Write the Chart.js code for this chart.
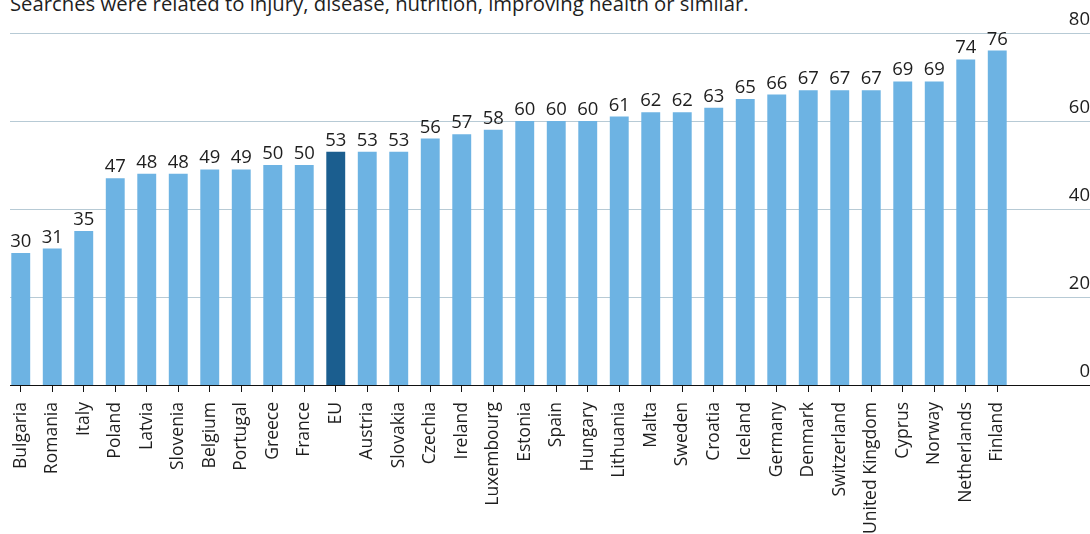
<!DOCTYPE html>
<html>
<head>
<meta charset="utf-8">
<script src="https://cdn.jsdelivr.net/npm/chart.js@4"></script>
<style>
  html, body { margin: 0; padding: 0; background: #fff; }
  #wrap { position: relative; width: 1090px; height: 534px; overflow: hidden; }
  #title {
    position: absolute; left: 10px; top: -7px;
    font: 20.3px/20px "Open Sans", sans-serif; color: #1e1e1e; white-space: nowrap;
  }
  canvas { position: absolute; left: 0; top: 0; }
</style>
</head>
<body>
<div id="wrap">
  <div id="title">Searches were related to injury, disease, nutrition, improving health or similar.</div>
  <canvas id="chart" width="1090" height="534"></canvas>
</div>
<script>
const countries = ['Bulgaria', 'Romania', 'Italy', 'Poland', 'Latvia', 'Slovenia', 'Belgium', 'Portugal',
  'Greece', 'France', 'EU', 'Austria', 'Slovakia', 'Czechia', 'Ireland', 'Luxembourg', 'Estonia', 'Spain',
  'Hungary', 'Lithuania', 'Malta', 'Sweden', 'Croatia', 'Iceland', 'Germany', 'Denmark', 'Switzerland',
  'United Kingdom', 'Cyprus', 'Norway', 'Netherlands', 'Finland'];
const shares = [30, 31, 35, 47, 48, 48, 49, 49, 50, 50, 53, 53, 53, 56, 57, 58, 60, 60,
  60, 61, 62, 62, 63, 65, 66, 67, 67, 67, 69, 69, 74, 76];
const yTicks = [0, 20, 40, 60, 80];

const light = '#6db3e3';
const dark = '#1b5e8f';
const gridColor = '#b7cad5';
const textColor = '#1e1e1e';

// grid lines and base line run across the whole width, past the plot
const longLines = {
  id: 'longLines',
  beforeDatasetsDraw(chart) {
    const { ctx } = chart;
    const y = chart.scales.y;
    ctx.save();
    ctx.lineWidth = 1;
    yTicks.forEach(v => {
      const py = Math.round(y.getPixelForValue(v)) + 0.5;
      ctx.strokeStyle = v === 0 ? '#111' : gridColor;
      ctx.beginPath();
      ctx.moveTo(10, py);
      ctx.lineTo(chart.width, py);
      ctx.stroke();
    });
    ctx.restore();
  }
};

// value above each bar
const valueLabels = {
  id: 'valueLabels',
  afterDatasetsDraw(chart) {
    const { ctx } = chart;
    const meta = chart.getDatasetMeta(0);
    ctx.save();
    ctx.font = '18.5px "Open Sans", sans-serif';
    ctx.fillStyle = textColor;
    ctx.textAlign = 'center';
    ctx.textBaseline = 'alphabetic';
    meta.data.forEach((bar, i) => {
      ctx.fillText(String(shares[i]), bar.x, bar.y - 6);
    });
    ctx.restore();
  }
};

new Chart(document.getElementById('chart'), {
  type: 'bar',
  data: {
    labels: countries,
    datasets: [{
      data: shares,
      backgroundColor: countries.map(c => c === 'EU' ? dark : light),
      borderWidth: 0,
      barPercentage: 0.6,
      categoryPercentage: 1
    }]
  },
  options: {
    responsive: false,
    animation: false,
    layout: { padding: { left: 5, top: 33, right: 0, bottom: 0 } },
    plugins: {
      legend: { display: false },
      tooltip: { enabled: false }
    },
    scales: {
      x: {
        offset: true,
        grid: { display: true, drawOnChartArea: false, offset: false, tickLength: 7, color: '#111' },
        border: { display: false },
        ticks: {
          autoSkip: false,
          maxRotation: 90,
          minRotation: 90,
          padding: 10,
          color: textColor,
          font: { family: '"Open Sans", sans-serif', size: 17.5 }
        },
        afterFit(scale) {
          scale.height = 149;
          scale.paddingLeft = 0;
          scale.paddingRight = 0;
        }
      },
      y: {
        position: 'right',
        min: 0,
        max: 80,
        afterBuildTicks(scale) { scale.ticks = yTicks.map(v => ({ value: v })); },
        grid: { display: false },
        border: { display: false },
        ticks: {
          crossAlign: 'far',
          padding: 59,
          labelOffset: -13,
          color: textColor,
          font: { family: '"Open Sans", sans-serif', size: 18.5 }
        },
        afterFit(scale) {
          scale.width = 77;
          scale.paddingTop = 0;
          scale.paddingBottom = 0;
        }
      }
    }
  },
  plugins: [longLines, valueLabels]
});
</script>
</body>
</html>
